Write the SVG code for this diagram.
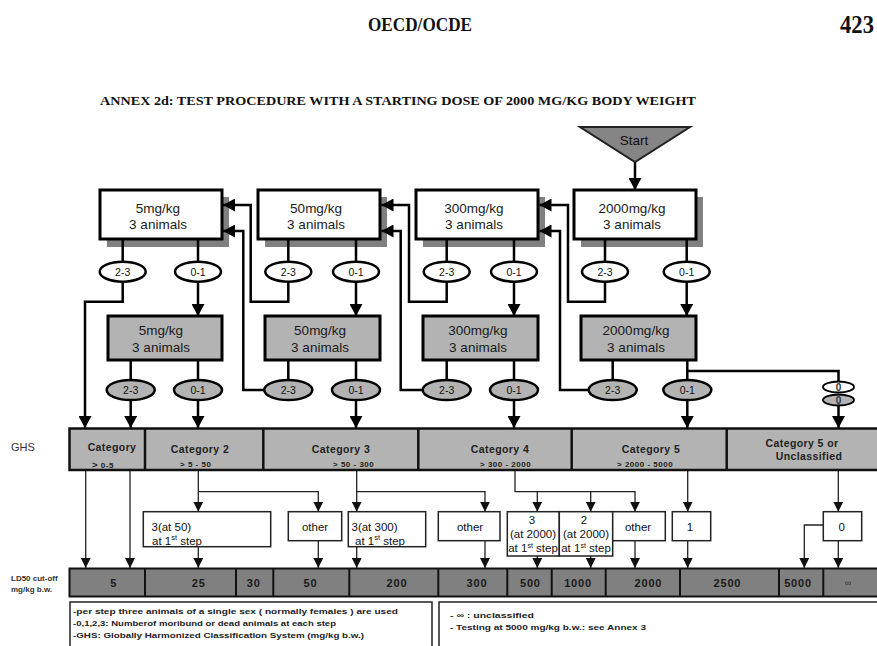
<svg xmlns="http://www.w3.org/2000/svg" width="877" height="646" viewBox="0 0 877 646">
<style>
.t{font-family:"Liberation Sans",Arial,sans-serif}
.s{font-family:"Liberation Serif","Times New Roman",serif;font-weight:bold;fill:#111}
.box{fill:#fff;stroke:#000;stroke-width:3}
.gbox{fill:#b3b3b3;stroke:#000;stroke-width:3}
.shadow{fill:#808080}
.ov{fill:#fff;stroke:#000;stroke-width:2.5}
.gov{fill:#b3b3b3;stroke:#000;stroke-width:2.5}
.bt{font-size:13.5px;text-anchor:middle;fill:#1a1a1a}
.ot{font-size:10.5px;text-anchor:middle;fill:#111}
.c{fill:none;stroke:#000;stroke-width:2.5}
.cl{fill:none;stroke:#222;stroke-width:1.3}
.lb{fill:#fff;stroke:#222;stroke-width:1.5}
.lt{font-size:11.5px;fill:#111}
.ltc{font-size:11.5px;fill:#111;text-anchor:middle}
.cat{font-size:10.5px;font-weight:bold;letter-spacing:0.4px;text-anchor:middle;fill:#222}
.rng{font-size:8px;font-weight:bold;letter-spacing:0.5px;fill:#222}
.num{font-size:11px;font-weight:bold;letter-spacing:0.8px;text-anchor:middle;fill:#1a1a1a}
.bar{fill:#b3b3b3;stroke:#111;stroke-width:2.5}
.ld{fill:#808080;stroke:#111;stroke-width:2}
.dv{stroke:#111;stroke-width:2.5}
.dv2{stroke:#111;stroke-width:2}
.nt{font-size:8px;font-weight:bold;fill:#222}
</style>
<defs>
<marker id="ah" markerUnits="userSpaceOnUse" markerWidth="13" markerHeight="13" refX="12" refY="6.5" orient="auto"><path d="M0,0 L12,6.5 L0,13 z" fill="#000"/></marker>
<marker id="ahs" markerUnits="userSpaceOnUse" markerWidth="10" markerHeight="10" refX="10" refY="5" orient="auto"><path d="M0,0 L10,5 L0,10 z" fill="#111"/></marker>
</defs>

<g id="header">
<text class="s" x="420" y="31" font-size="19" text-anchor="middle" textLength="104" lengthAdjust="spacingAndGlyphs">OECD/OCDE</text>
<text class="s" x="840" y="33" font-size="25" textLength="34" lengthAdjust="spacingAndGlyphs">423</text>
<text class="s" x="100" y="105" font-size="12.5" textLength="596" lengthAdjust="spacingAndGlyphs">ANNEX 2d:  TEST PROCEDURE WITH A STARTING DOSE OF 2000 MG/KG BODY WEIGHT</text>
</g>

<g id="start">
<polygon points="580,127 690,127 635,162" fill="#858585" stroke="#222" stroke-width="2"/>
<text class="t" x="634" y="145" font-size="13.5" text-anchor="middle" fill="#111">Start</text>
</g>

<!-- top white boxes -->
<g id="w5">
<rect class="shadow" x="107" y="197" width="122" height="50"/>
<rect class="box" x="100" y="190" width="122" height="49"/>
<text class="t bt" x="158" y="213">5mg/kg</text>
<text class="t bt" x="158" y="229">3 animals</text>
</g>
<g id="w50">
<rect class="shadow" x="265" y="197" width="122" height="50"/>
<rect class="box" x="258" y="190" width="122" height="49"/>
<text class="t bt" x="316" y="213">50mg/kg</text>
<text class="t bt" x="316" y="229">3 animals</text>
</g>
<g id="w300">
<rect class="shadow" x="423" y="197" width="122" height="50"/>
<rect class="box" x="416" y="190" width="122" height="49"/>
<text class="t bt" x="474" y="213">300mg/kg</text>
<text class="t bt" x="474" y="229">3 animals</text>
</g>
<g id="w2000">
<rect class="shadow" x="581" y="197" width="122" height="50"/>
<rect class="box" x="574" y="190" width="122" height="49"/>
<text class="t bt" x="632" y="213">2000mg/kg</text>
<text class="t bt" x="632" y="229">3 animals</text>
</g>

<!-- gray boxes -->
<g id="g5">
<rect class="gbox" x="108" y="316" width="114" height="44"/>
<text class="t bt" x="161" y="334.5">5mg/kg</text>
<text class="t bt" x="161" y="352">3 animals</text>
</g>
<g id="g50">
<rect class="gbox" x="265" y="316" width="115" height="44"/>
<text class="t bt" x="320" y="334.5">50mg/kg</text>
<text class="t bt" x="320" y="352">3 animals</text>
</g>
<g id="g300">
<rect class="gbox" x="423" y="316" width="115" height="44"/>
<text class="t bt" x="478" y="334.5">300mg/kg</text>
<text class="t bt" x="478" y="352">3 animals</text>
</g>
<g id="g2000">
<rect class="gbox" x="581" y="316" width="115" height="44"/>
<text class="t bt" x="636" y="334.5">2000mg/kg</text>
<text class="t bt" x="636" y="352">3 animals</text>
</g>

<!-- connectors -->
<g id="connectors">
<path class="c" d="M635,162 V190" marker-end="url(#ah)"/>
<path class="c" d="M122.7,239 V262 M198,239 V262 M288.3,239 V262 M356,239 V262 M446.7,239 V262 M514,239 V262 M605,239 V262 M686.7,239 V262"/>
<path class="c" d="M198,282 V316" marker-end="url(#ah)"/>
<path class="c" d="M356,282 V316" marker-end="url(#ah)"/>
<path class="c" d="M514,282 V316" marker-end="url(#ah)"/>
<path class="c" d="M686.7,282 V316" marker-end="url(#ah)"/>
<path class="c" d="M122.7,282 V301.7 H85 V428" marker-end="url(#ah)"/>
<path class="c" d="M288.3,282 V301.7 H250.7 V205 H223" marker-end="url(#ah)"/>
<path class="c" d="M446.7,282 V301.7 H409 V205 H381.5" marker-end="url(#ah)"/>
<path class="c" d="M605,282 V301.7 H568 V205 H539.5" marker-end="url(#ah)"/>
<path class="c" d="M130.7,360 V380 M198,360 V380 M288.3,360 V380 M356,360 V380 M446.7,360 V380 M514,360 V380 M612.7,360 V380 M687.3,360 V380"/>
<path class="c" d="M130.7,400 V428" marker-end="url(#ah)"/>
<path class="c" d="M198,400 V428" marker-end="url(#ah)"/>
<path class="c" d="M356,400 V428" marker-end="url(#ah)"/>
<path class="c" d="M514,400 V428" marker-end="url(#ah)"/>
<path class="c" d="M687.3,400 V428" marker-end="url(#ah)"/>
<path class="c" d="M264.3,390 H243.3 V231 H223" marker-end="url(#ah)"/>
<path class="c" d="M422.7,390 H400.7 V231 H381.5" marker-end="url(#ah)"/>
<path class="c" d="M588.7,390 H560 V231 H539.5" marker-end="url(#ah)"/>
<path class="c" d="M687.3,371 H838.5 V382"/>
<path class="c" d="M838.5,405 V428" marker-end="url(#ah)"/>
<path class="cl" d="M85.7,470 V568" marker-end="url(#ahs)"/>
<path class="cl" d="M130,470 V568" marker-end="url(#ahs)"/>
<path class="cl" d="M198.3,470 V511.7" marker-end="url(#ahs)"/>
<path class="cl" d="M198.3,491.7 H318.3 V511.7" marker-end="url(#ahs)"/>
<path class="cl" d="M198.3,546.7 V568" marker-end="url(#ahs)"/>
<path class="cl" d="M318.3,540.7 V568" marker-end="url(#ahs)"/>
<path class="cl" d="M356.7,470 V511.7" marker-end="url(#ahs)"/>
<path class="cl" d="M356.7,491.7 H485 V511.7" marker-end="url(#ahs)"/>
<path class="cl" d="M356.7,546.7 V568" marker-end="url(#ahs)"/>
<path class="cl" d="M485,540.7 V568" marker-end="url(#ahs)"/>
<path class="cl" d="M515,470 V491.7 H635 V511.7" marker-end="url(#ahs)"/>
<path class="cl" d="M537.3,491.7 V511.7" marker-end="url(#ahs)"/>
<path class="cl" d="M590.7,491.7 V511.7" marker-end="url(#ahs)"/>
<path class="cl" d="M537.3,556 V568" marker-end="url(#ahs)"/>
<path class="cl" d="M590.7,556 V568" marker-end="url(#ahs)"/>
<path class="cl" d="M635,540.7 V568" marker-end="url(#ahs)"/>
<path class="cl" d="M687.7,470 V511.7" marker-end="url(#ahs)"/>
<path class="cl" d="M687.7,540.7 V568" marker-end="url(#ahs)"/>
<path class="cl" d="M838.3,470 V511.7" marker-end="url(#ahs)"/>
<path class="cl" d="M838.3,540.7 V568" marker-end="url(#ahs)"/>
<path class="cl" d="M823.3,525 H804.3 V568" marker-end="url(#ahs)"/>
</g>

<!-- top ovals -->
<g id="ov-w5-23"><ellipse class="ov" cx="122.7" cy="271.7" rx="23" ry="10"/><text class="t ot" x="122.7" y="275.5">2-3</text></g>
<g id="ov-w5-01"><ellipse class="ov" cx="198" cy="271.7" rx="23" ry="10"/><text class="t ot" x="198" y="275.5">0-1</text></g>
<g id="ov-w50-23"><ellipse class="ov" cx="288.3" cy="271.7" rx="23" ry="10"/><text class="t ot" x="288.3" y="275.5">2-3</text></g>
<g id="ov-w50-01"><ellipse class="ov" cx="356" cy="271.7" rx="23" ry="10"/><text class="t ot" x="356" y="275.5">0-1</text></g>
<g id="ov-w300-23"><ellipse class="ov" cx="446.7" cy="271.7" rx="23" ry="10"/><text class="t ot" x="446.7" y="275.5">2-3</text></g>
<g id="ov-w300-01"><ellipse class="ov" cx="514" cy="271.7" rx="23" ry="10"/><text class="t ot" x="514" y="275.5">0-1</text></g>
<g id="ov-w2000-23"><ellipse class="ov" cx="605" cy="271.7" rx="23" ry="10"/><text class="t ot" x="605" y="275.5">2-3</text></g>
<g id="ov-w2000-01"><ellipse class="ov" cx="686.7" cy="271.7" rx="23" ry="10"/><text class="t ot" x="686.7" y="275.5">0-1</text></g>

<!-- bottom ovals -->
<g id="ov-g5-23"><ellipse class="gov" cx="130.7" cy="390" rx="24" ry="10"/><text class="t ot" x="130.7" y="394">2-3</text></g>
<g id="ov-g5-01"><ellipse class="gov" cx="198" cy="390" rx="24" ry="10"/><text class="t ot" x="198" y="394">0-1</text></g>
<g id="ov-g50-23"><ellipse class="gov" cx="288.3" cy="390" rx="24" ry="10"/><text class="t ot" x="288.3" y="394">2-3</text></g>
<g id="ov-g50-01"><ellipse class="gov" cx="356" cy="390" rx="24" ry="10"/><text class="t ot" x="356" y="394">0-1</text></g>
<g id="ov-g300-23"><ellipse class="gov" cx="446.7" cy="390" rx="24" ry="10"/><text class="t ot" x="446.7" y="394">2-3</text></g>
<g id="ov-g300-01"><ellipse class="gov" cx="514" cy="390" rx="24" ry="10"/><text class="t ot" x="514" y="394">0-1</text></g>
<g id="ov-g2000-23"><ellipse class="gov" cx="612.7" cy="390" rx="24" ry="10"/><text class="t ot" x="612.7" y="394">2-3</text></g>
<g id="ov-g2000-01"><ellipse class="gov" cx="687.3" cy="390" rx="24" ry="10"/><text class="t ot" x="687.3" y="394">0-1</text></g>
<g id="ov-zero-w"><ellipse cx="838.5" cy="387" rx="15.5" ry="5.5" fill="#fff" stroke="#000" stroke-width="1.8"/><text class="t" x="838.5" y="390.5" font-size="10" font-weight="bold" text-anchor="middle" fill="#333">0</text></g>
<g id="ov-zero-g"><ellipse cx="838.5" cy="400" rx="15.5" ry="5.5" fill="#b3b3b3" stroke="#000" stroke-width="1.8"/><text class="t" x="838.5" y="403.5" font-size="10" font-weight="bold" text-anchor="middle" fill="#333">0</text></g>

<!-- GHS bar -->
<g id="ghs">
<text class="t" x="11" y="450.5" font-size="11" fill="#333">GHS</text>
<rect class="bar" x="69.5" y="428.5" width="812" height="41.5"/>
<path class="dv" d="M145,428.5 V470 M263.3,428.5 V470 M418.3,428.5 V470 M571.7,428.5 V470 M726.7,428.5 V470"/>
<text class="t cat" x="112" y="450.5">Category</text>
<text class="t rng" x="92" y="467.5"><tspan font-size="9.5">&gt;</tspan> 0-5</text>
<text class="t cat" x="200" y="453">Category 2</text>
<text class="t rng" x="180" y="467">&gt; 5 - 50</text>
<text class="t cat" x="341" y="453">Category 3</text>
<text class="t rng" x="333" y="467">&gt; 50 - 300</text>
<text class="t cat" x="500" y="453">Category 4</text>
<text class="t rng" x="480" y="467">&gt; 300 - 2000</text>
<text class="t cat" x="651" y="453">Category 5</text>
<text class="t rng" x="617" y="467">&gt;  2000 - 5000</text>
<text class="t cat" x="802" y="447">Category 5 or</text>
<text class="t cat" x="809" y="460">Unclassified</text>
</g>

<!-- result boxes -->
<g id="r-3at50"><rect class="lb" x="143.3" y="511.7" width="127.4" height="35"/>
<text class="t lt" x="151.5" y="531">3(at 50)</text>
<text class="t lt" x="152" y="544.5">at 1<tspan font-size="7.5" dy="-4.5">st</tspan><tspan dy="4.5"> step</tspan></text></g>
<g id="r-other1"><rect class="lb" x="288.3" y="511.7" width="53.4" height="29"/>
<text class="t ltc" x="315" y="530.5">other</text></g>
<g id="r-3at300"><rect class="lb" x="348.3" y="511.7" width="77.4" height="35"/>
<text class="t lt" x="351.5" y="531">3(at 300)</text>
<text class="t lt" x="355" y="544.5">at 1<tspan font-size="7.5" dy="-4.5">st</tspan><tspan dy="4.5"> step</tspan></text></g>
<g id="r-other2"><rect class="lb" x="438.3" y="511.7" width="61.7" height="29"/>
<text class="t ltc" x="470" y="530.5">other</text></g>
<g id="r-3at2000"><rect class="lb" x="507.3" y="511.7" width="52" height="44.3"/>
<text class="t ltc" x="532" y="524" font-size="11px">3</text>
<text class="t ltc" x="533" y="538" font-size="11px">(at 2000)</text>
<text class="t ltc" x="533" y="552" font-size="11px">at 1<tspan font-size="7" dy="-4">st</tspan><tspan dy="4"> step</tspan></text></g>
<g id="r-2at2000"><rect class="lb" x="559.3" y="511.7" width="53.4" height="44.3"/>
<text class="t ltc" x="584" y="524" font-size="11px">2</text>
<text class="t ltc" x="586" y="538" font-size="11px">(at 2000)</text>
<text class="t ltc" x="586" y="552" font-size="11px">at 1<tspan font-size="7" dy="-4">st</tspan><tspan dy="4"> step</tspan></text></g>
<g id="r-other3"><rect class="lb" x="612.7" y="511.7" width="52.6" height="29"/>
<text class="t ltc" x="638" y="530.5">other</text></g>
<g id="r-1"><rect class="lb" x="672.3" y="511.7" width="38.4" height="29"/>
<text class="t ltc" x="690" y="530.5">1</text></g>
<g id="r-0"><rect class="lb" x="823.3" y="511.7" width="38.4" height="29"/>
<text class="t ltc" x="841.7" y="530.5">0</text></g>

<!-- LD50 bar -->
<g id="ld50">
<text class="t" x="11" y="581" font-size="8" font-weight="bold" fill="#333">LD50  cut-off</text>
<text class="t" x="11" y="592" font-size="8" font-weight="bold" fill="#333">mg/kg b.w.</text>
<rect class="ld" x="69.5" y="568.5" width="812" height="28"/>
<path class="dv2" d="M145,568.5 V596.5 M236,568.5 V596.5 M273.3,568.5 V596.5 M349.3,568.5 V596.5 M438.3,568.5 V596.5 M507.3,568.5 V596.5 M551.7,568.5 V596.5 M605.7,568.5 V596.5 M680,568.5 V596.5 M779,568.5 V596.5 M823.3,568.5 V596.5"/>
<text class="t num" x="113.7" y="587">5</text>
<text class="t num" x="198.7" y="587">25</text>
<text class="t num" x="253.7" y="587">30</text>
<text class="t num" x="310.4" y="587">50</text>
<text class="t num" x="397" y="587">200</text>
<text class="t num" x="477" y="587">300</text>
<text class="t num" x="530.4" y="587">500</text>
<text class="t num" x="578" y="587">1000</text>
<text class="t num" x="648.4" y="587">2000</text>
<text class="t num" x="727.4" y="587">2500</text>
<text class="t num" x="798" y="587">5000</text>
<text class="t" x="848" y="586" font-size="9" text-anchor="middle" fill="#333">∞</text>
</g>

<!-- notes -->
<g id="notes">
<rect x="70" y="602" width="362" height="50" fill="#fff" stroke="#222" stroke-width="1.5"/>
<rect x="439" y="602" width="445" height="50" fill="#fff" stroke="#222" stroke-width="1.5"/>
<text class="t nt" x="73" y="614" textLength="325" lengthAdjust="spacingAndGlyphs">-per step three animals of a single sex ( normally females  ) are used</text>
<text class="t nt" x="73" y="626" textLength="263" lengthAdjust="spacingAndGlyphs">-0,1,2,3:  Numberof moribund or dead animals  at each step</text>
<text class="t nt" x="73" y="638" textLength="291" lengthAdjust="spacingAndGlyphs">-GHS:  Globally Harmonized Classification  System (mg/kg b.w.)</text>
<text class="t nt" x="450" y="618" textLength="84" lengthAdjust="spacingAndGlyphs">- ∞ : unclassified</text>
<text class="t nt" x="450" y="630" textLength="196" lengthAdjust="spacingAndGlyphs">- Testing  at 5000 mg/kg b.w.: see Annex 3</text>
</g>
</svg>
